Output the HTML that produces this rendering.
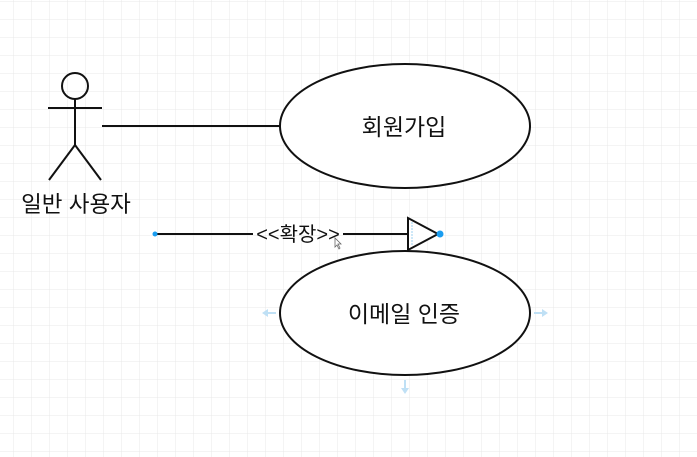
<!DOCTYPE html>
<html><head><meta charset="utf-8"><style>
html,body{margin:0;padding:0;background:#fff;}
svg{display:block;}
text{font-family:"Liberation Sans","Noto Sans CJK KR",sans-serif;fill:#111;}
</style></head><body>
<svg width="697" height="457" viewBox="0 0 697 457" xmlns="http://www.w3.org/2000/svg">
<defs>
<pattern id="g" x="13" y="1" width="18" height="18" patternUnits="userSpaceOnUse">
<path d="M0 0V18M0 0H18" stroke="#e8e8e8" stroke-width="1" fill="none"/>
</pattern>
</defs>
<rect width="697" height="457" fill="url(#g)"/>
<g stroke="#111" stroke-width="2" fill="none">
<circle cx="75" cy="86" r="13"/>
<line x1="48" y1="108" x2="102" y2="108"/>
<line x1="75" y1="99" x2="75" y2="145"/>
<line x1="75" y1="145" x2="49" y2="180"/>
<line x1="75" y1="145" x2="101" y2="180"/>
<line x1="102" y1="126" x2="280" y2="126"/>
<ellipse cx="405" cy="126" rx="125" ry="62" fill="#fff"/>
<ellipse cx="405" cy="313" rx="125" ry="62" fill="#fff"/>
<line x1="155" y1="234" x2="253" y2="234"/>
<line x1="343" y1="234" x2="408" y2="234"/>
<polygon points="408,218 408,250 438,234" fill="#fff"/>
</g>
<line x1="412" y1="222" x2="412" y2="246" stroke="#9cd0f0" stroke-width="1" stroke-dasharray="2,1"/>
<circle cx="155" cy="234" r="2.5" fill="#1a9df0"/>
<circle cx="440" cy="234" r="3.5" fill="#1a9df0"/>
<g fill="#bfe0f5" stroke="none">
<path d="M262 313l6-4v3h8v2h-8v3z"/>
<path d="M548 313l-6-4v3h-8v2h8v3z"/>
<path d="M405 394l-4-6h3v-8h2v8h3z"/>
</g>
<text x="76" y="212" font-size="22.5" text-anchor="middle">일반 사용자</text>
<text x="404" y="135" font-size="23" text-anchor="middle">회원가입</text>
<text x="404" y="322" font-size="23" text-anchor="middle">이메일 인증</text>
<text x="298" y="241" font-size="20" text-anchor="middle">&lt;&lt;확장&gt;&gt;</text>
<path d="M335 238v9l2-2 2 4 1-1-2-4h3z" fill="#fff" stroke="#666" stroke-width="0.8"/>
</svg>
</body></html>
